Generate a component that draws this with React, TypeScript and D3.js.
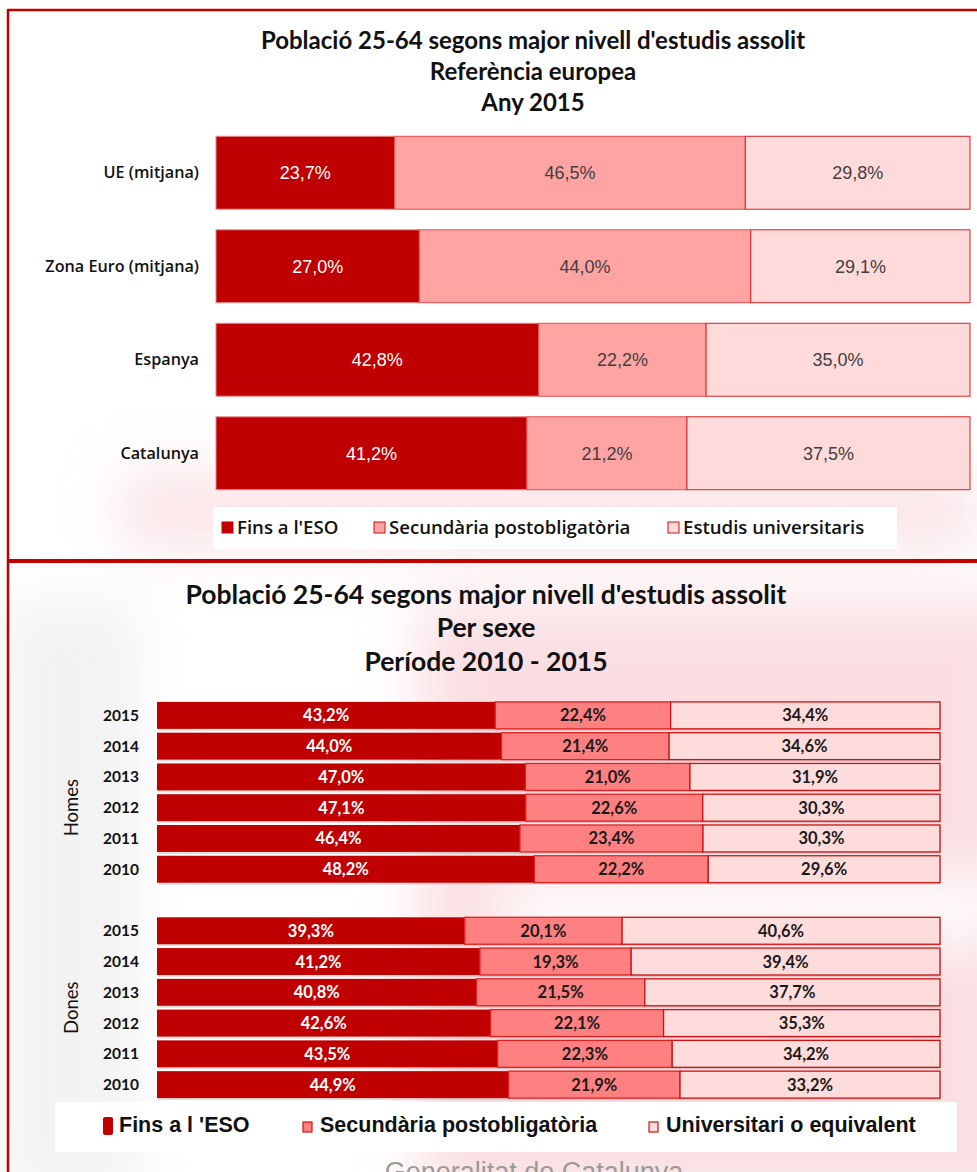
import React from "react";
import * as d3 from "d3";

// top chart: european reference, 2015
const topCategories = ["UE (mitjana)", "Zona Euro (mitjana)", "Espanya", "Catalunya"];
const topEso = [23.7, 27.0, 42.8, 41.2];
const topSec = [46.5, 44.0, 22.2, 21.2];
const topUni = [29.8, 29.1, 35.0, 37.5];
const topLegend = ["Fins a l'ESO", "Secundària postobligatòria", "Estudis universitaris"];

// bottom chart: by sex, 2010-2015
const years = ["2015", "2014", "2013", "2012", "2011", "2010"];
const homesEso = [43.2, 44.0, 47.0, 47.1, 46.4, 48.2];
const homesSec = [22.4, 21.4, 21.0, 22.6, 23.4, 22.2];
const homesUni = [34.4, 34.6, 31.9, 30.3, 30.3, 29.6];
const donesEso = [39.3, 41.2, 40.8, 42.6, 43.5, 44.9];
const donesSec = [20.1, 19.3, 21.5, 22.1, 22.3, 21.9];
const donesUni = [40.6, 39.4, 37.7, 35.3, 34.2, 33.2];
const bottomLegend = ["Fins a l 'ESO", "Secundària postobligatòria", "Universitari o equivalent"];

const keys = ["eso", "sec", "uni"];
const fmt = (v: number) => d3.format(".1f")(v).replace(".", ",") + "%";

const CAL = "Lato, 'Open Sans', sans-serif";
const OPEN = "'Open Sans', Lato, sans-serif";
const ARIAL = "'Liberation Sans', Arial, sans-serif";

const topFill = ["#c00000", "#ffa3a3", "#ffdada"];
const topStroke = ["#e88a8a", "#e84a4a", "#d82020"];
const botFill = ["#c00000", "#ff8080", "#ffdcdc"];
const botStroke = ["#c00000", "#e02020", "#d01010"];

function TopChart() {
  const rows = topCategories.map((c, i) => ({ cat: c, eso: topEso[i], sec: topSec[i], uni: topUni[i] }));
  const series = d3.stack<any>().keys(keys).offset(d3.stackOffsetExpand)(rows);
  const x = d3.scaleLinear().domain([0, 1]).range([216, 970]);
  const y = d3.scaleBand().domain(topCategories).range([126, 500]).paddingInner(0.22).paddingOuter(0.11);
  const raw = [topEso, topSec, topUni];
  return (
    <g>
      <text textAnchor="middle" fontFamily={CAL} fontWeight="bold" fontSize={24} fill="#111">
        <tspan x={533} y={49}>Població 25-64 segons major nivell d'estudis assolit</tspan>
        <tspan x={533} y={80}>Referència europea</tspan>
        <tspan x={533} y={111}>Any 2015</tspan>
      </text>
      {topCategories.map((c) => (
        <text key={c} x={199} y={(y(c) as number) + y.bandwidth() / 2 + 5.5} textAnchor="end"
          fontFamily={OPEN} fontWeight={600} fontSize={16.2} fill="#111">{c}</text>
      ))}
      {series.map((s, si) =>
        s.map((d, i) => {
          const x0 = x(d[0]);
          const x1 = x(d[1]);
          const yy = y(topCategories[i]) as number;
          return (
            <g key={si + "-" + i}>
              <rect x={x0} y={yy} width={x1 - x0} height={y.bandwidth()} fill={topFill[si]}
                stroke={topStroke[si]} strokeWidth={1} />
              <text x={(x0 + x1) / 2} y={yy + y.bandwidth() / 2 + 6.5} textAnchor="middle"
                fontFamily={ARIAL} fontSize={18} fill={si === 0 ? "#fff" : "#404040"}>
                {fmt(raw[si][i])}
              </text>
            </g>
          );
        })
      )}
      <rect x={213} y={507} width={684} height={42} fill="#fff" />
      {topLegend.map((l, i) => {
        const lx = [222, 374, 668][i];
        return (
          <g key={l}>
            <rect x={lx} y={522} width={11} height={11} fill={topFill[i]} stroke={i === 0 ? topFill[0] : "#d01010"} strokeWidth={1} />
            <text x={lx + 15} y={534} fontFamily={OPEN} fontWeight={600} fontSize={18.6} fill="#111">{l}</text>
          </g>
        );
      })}
    </g>
  );
}

function BottomChart() {
  const slots = [...years.map((yr) => "H" + yr), "gap", ...years.map((yr) => "D" + yr)];
  const rows = [
    ...years.map((yr, i) => ({ slot: "H" + yr, year: yr, eso: homesEso[i], sec: homesSec[i], uni: homesUni[i] })),
    ...years.map((yr, i) => ({ slot: "D" + yr, year: yr, eso: donesEso[i], sec: donesSec[i], uni: donesUni[i] })),
  ];
  const series = d3.stack<any>().keys(keys).offset(d3.stackOffsetExpand)(rows);
  const x = d3.scaleLinear().domain([0, 1]).range([157, 940]);
  const y = d3.scaleBand().domain(slots).range([700, 1100]).paddingInner(0.124).paddingOuter(0.062);
  const bw = y.bandwidth();
  const homesY = (y("H2012") as number) + bw / 2;
  const donesY = ((y("D2013") as number) + (y("D2012") as number)) / 2 + bw / 2;
  return (
    <g>
      <text textAnchor="middle" fontFamily={CAL} fontWeight="bold" fontSize={26.5} fill="#111">
        <tspan x={486} y={604}>Població 25-64 segons major nivell d'estudis assolit</tspan>
        <tspan x={486} y={637}>Per sexe</tspan>
        <tspan x={486} y={671}>Període 2010 - 2015</tspan>
      </text>
      {rows.map((r) => (
        <text key={r.slot} x={139} y={(y(r.slot) as number) + bw / 2 + 5.5} textAnchor="end"
          fontFamily={CAL} fontWeight="bold" fontSize={15.5} fill="#111">{r.year}</text>
      ))}
      <text transform={`translate(78,${homesY}) rotate(-90)`} textAnchor="middle" fontFamily={CAL} fontSize={18.5} fill="#111">Homes</text>
      <text transform={`translate(78,${donesY}) rotate(-90)`} textAnchor="middle" fontFamily={CAL} fontSize={18.5} fill="#111">Dones</text>
      {series.map((s, si) =>
        s.map((d, i) => {
          const x0 = x(d[0]);
          const x1 = x(d[1]);
          const r = rows[i];
          const yy = y(r.slot) as number;
          const v = (r as any)[keys[si]];
          return (
            <g key={si + "-" + i}>
              <rect x={x0 + 1} y={yy + 2} width={x1 - x0} height={bw} fill="#000" opacity={0.12} />
              <rect x={x0} y={yy} width={x1 - x0} height={bw} fill={botFill[si]}
                stroke={botStroke[si]} strokeWidth={si === 0 ? 0 : 1.3} />
              <text x={(x0 + x1) / 2} y={yy + bw / 2 + 6} textAnchor="middle"
                fontFamily={CAL} fontWeight="bold" fontSize={16.5} fill={si === 0 ? "#fff" : "#1a1a1a"}>
                {fmt(v)}
              </text>
            </g>
          );
        })
      )}
      <rect x={55} y={1102} width={902} height={50} fill="#fff" />
      {bottomLegend.map((l, i) => {
        const lx = [103, 303, 649][i];
        return (
          <g key={l}>
            {i === 0 ? (
              <rect x={lx} y={1117} width={10} height={18} rx={2} fill={botFill[0]} />
            ) : (
              <rect x={lx} y={1122} width={9} height={10} fill={botFill[i]} stroke="#d01010" strokeWidth={1.2} />
            )}
            <text x={lx + (i === 0 ? 16 : 17)} y={1132} fontFamily={ARIAL} fontWeight="bold" fontSize={21.5} fill="#111">{l}</text>
          </g>
        );
      })}
    </g>
  );
}

export default function App() {
  return (
    <svg width={977} height={1172} style={{ position: "absolute", left: 0, top: 0, background: "#fff" }}>
      <defs>
        <filter id="blur" x="-50%" y="-50%" width="200%" height="200%">
          <feGaussianBlur stdDeviation="28" />
        </filter>
      </defs>
      <rect x={0} y={0} width={977} height={1172} fill="#fff" />
      {/* faint watermark */}
      <g filter="url(#blur)" opacity={0.55}>
        <rect x={420} y={600} width={600} height={600} fill="#f6c4cb" />
        <rect x={120} y={470} width={860} height={80} fill="#f7d0d5" />
        <rect x={0} y={600} width={140} height={600} fill="#e8e8e8" />
        <rect x={500} y={880} width={500} height={60} fill="#fff" />
      </g>
      <line x1={8} y1={10} x2={977} y2={10} stroke="#c00000" strokeWidth={2.5} />
      <line x1={8} y1={9} x2={8} y2={1172} stroke="#c00000" strokeWidth={2.5} />
      <line x1={8} y1={561} x2={977} y2={561} stroke="#c00000" strokeWidth={4} />
      <TopChart />
      <BottomChart />
      <text x={534} y={1181} textAnchor="middle" fontFamily={ARIAL} fontSize={27} fill="#9a9a9a">Generalitat de Catalunya</text>
    </svg>
  );
}
